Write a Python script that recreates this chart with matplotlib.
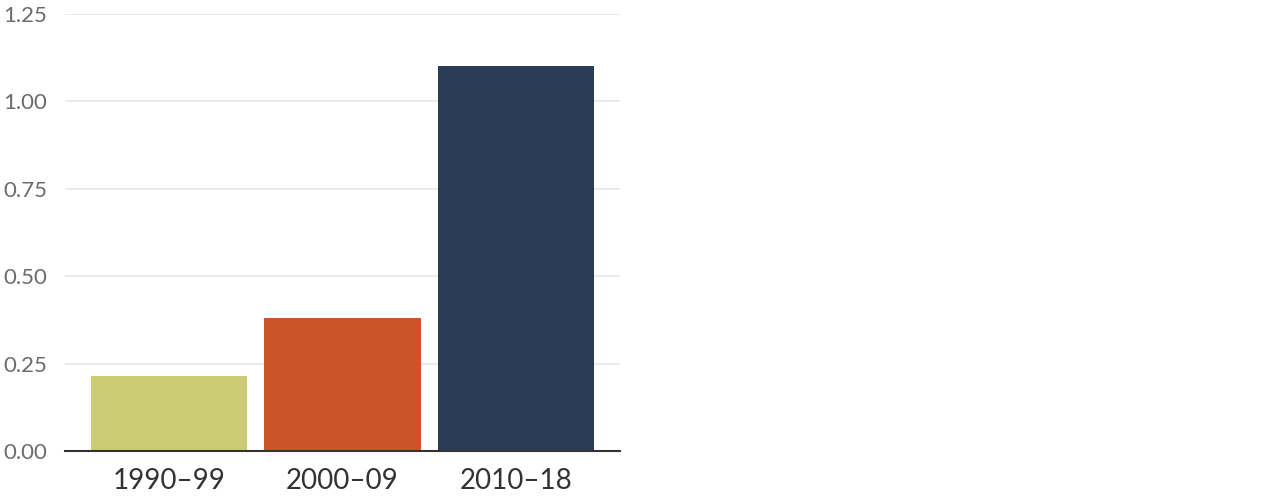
import matplotlib
matplotlib.use('Agg')
from matplotlib import pyplot as plt

periods = ['1990–99', '2000–09', '2010–18']
values = [0.215, 0.38, 1.10]
colors = ['#cccc74', '#cb5428', '#2a3b55']
yticks = [0.0, 0.25, 0.5, 0.75, 1.0, 1.25]

plt.rcParams['font.family'] = ['Lato', 'DejaVu Sans']

fig = plt.figure(figsize=(12.8, 4.96), dpi=100)
ax = fig.add_axes([65 / 1280, 1 - 451 / 496, (620 - 65) / 1280, (451 - 14) / 496])

ax.bar(range(len(periods)), values, width=0.9, color=colors, zorder=2)

ax.set_xlim(-0.6, 2.6)
ax.set_ylim(0, 1.25)
ax.set_yticks(yticks)
ax.set_yticklabels(['%.2f' % t for t in yticks])
ax.set_xticks(range(len(periods)))
ax.set_xticklabels(periods)

ax.grid(axis='y', color='#e6e6e6', linewidth=1.2, zorder=0)
for s in ['top', 'right', 'left']:
    ax.spines[s].set_visible(False)
ax.spines['bottom'].set_color('#333333')
ax.spines['bottom'].set_linewidth(1.5)
ax.spines['bottom'].set_zorder(3)

ax.tick_params(axis='y', length=0, labelsize=16, labelcolor='#6b6b6b', pad=13)
ax.tick_params(axis='x', length=0, labelsize=20, labelcolor='#333333', pad=12)

fig.savefig('out.png', dpi=100)
